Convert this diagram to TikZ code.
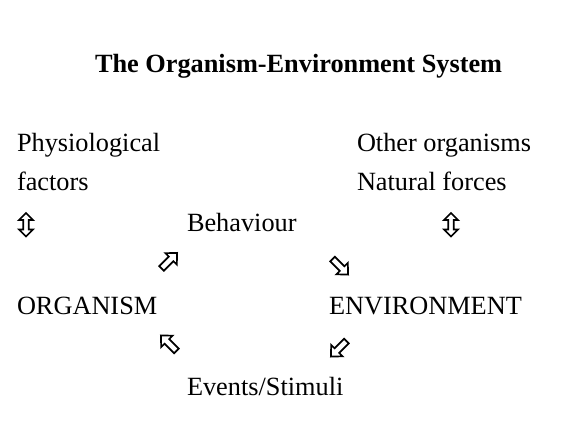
\documentclass[tikz,border=0pt]{standalone}
\usepackage{fontspec}
\setmainfont{Liberation Serif}
\begin{document}
\begin{tikzpicture}[x=1pt,y=-1pt,
  lbl/.style={anchor=base west,inner sep=0pt,outer sep=0pt,font=\fontsize{26.3}{30}\selectfont},
  ttl/.style={anchor=base west,inner sep=0pt,outer sep=0pt,font=\fontsize{26.3}{30}\selectfont\bfseries},
  harrow/.style={draw=black,line width=1.7pt,fill=white,line join=miter}]
\useasboundingbox (0,0) rectangle (567,430);
\node[ttl] (title) at (95,73) {The Organism-Environment System};
\node[lbl] (phys) at (17,152) {Physiological};
\node[lbl] (fact) at (17,191) {factors};
\node[lbl] (other) at (357,152) {Other organisms};
\node[lbl] (nat) at (357,191) {Natural forces};
\node[lbl] (beh) at (187,232) {Behaviour};
\node[lbl] (org) at (17,314) {ORGANISM};
\node[lbl] (env) at (329,314) {ENVIRONMENT};
\node[lbl] (ev) at (187,395) {Events/Stimuli};
% vertical double hollow arrows
\foreach \cx in {26, 451}{
  \draw[harrow] (\cx,213) -- (\cx+7,220) -- (\cx+2.8,220) -- (\cx+2.8,229.5) -- (\cx+7,229.5)
     -- (\cx,236.5) -- (\cx-7,229.5) -- (\cx-2.8,229.5) -- (\cx-2.8,220) -- (\cx-7,220) -- cycle;
}
% diagonal hollow arrows: defined along +x, rotated
\foreach \cx/\cy/\ang in {169/261/45, 340/266.5/-45, 169/343.5/135, 339/348.5/-135}{
  \begin{scope}[shift={(\cx,\cy)},rotate=\ang]
  \draw[harrow] (11.5,0) -- (3,-8) -- (3,-3.3) -- (-10.5,-3.3) -- (-10.5,3.3) -- (3,3.3) -- (3,8) -- cycle;
  \end{scope}
}
\end{tikzpicture}
\end{document}
